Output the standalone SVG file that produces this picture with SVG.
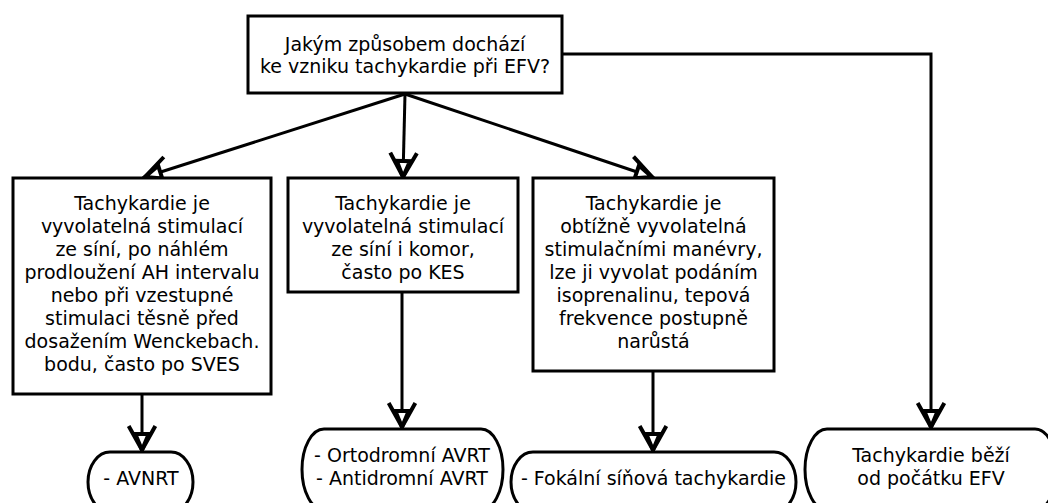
<svg xmlns="http://www.w3.org/2000/svg" width="1048" height="503" viewBox="0 0 1048 503">
<style>
text{font-family:"DejaVu Sans","Liberation Sans",sans-serif;font-size:19px;fill:#000;text-anchor:middle}
.box{fill:#fff;stroke:#000;stroke-width:3}
.con{fill:none;stroke:#000;stroke-width:3}
</style>
<defs>
<marker id="arr" markerUnits="userSpaceOnUse" markerWidth="40" markerHeight="40" viewBox="-25 -15 30 30" refX="0" refY="0" orient="auto" overflow="visible">
<path d="M-18,-10 L0,0 L-18,10" fill="none" stroke="#000" stroke-width="3"/>
<path d="M-12,-5 L0,0 L-12,5 Z" fill="#fff" stroke="#000" stroke-width="3" stroke-linejoin="miter"/>
</marker>
</defs>
<g id="connectors">
<path class="con" d="M405,94 L145,177" marker-end="url(#arr)"/>
<path class="con" d="M405,94 L403,177" marker-end="url(#arr)"/>
<path class="con" d="M405,94 L652,177" marker-end="url(#arr)"/>
<path class="con" d="M562,54 H931 V427" marker-end="url(#arr)"/>
<path class="con" d="M142,394 V450" marker-end="url(#arr)"/>
<path class="con" d="M402,292 V427" marker-end="url(#arr)"/>
<path class="con" d="M653,371 V450" marker-end="url(#arr)"/>
</g>
<g id="question">
<rect class="box" x="248" y="16" width="314" height="77"/>
<text x="405" y="51">Jakým způsobem dochází</text>
<text x="405" y="73">ke vzniku tachykardie při EFV?</text>
</g>
<g id="box1">
<rect class="box" x="13" y="178" width="258" height="216"/>
<text x="142" y="210">Tachykardie je</text>
<text x="142" y="233">vyvolatelná stimulací</text>
<text x="142" y="256">ze síní, po náhlém</text>
<text x="142" y="279">prodloužení AH intervalu</text>
<text x="142" y="302">nebo při vzestupné</text>
<text x="142" y="325">stimulaci těsně před</text>
<text x="142" y="348">dosažením Wenckebach.</text>
<text x="142" y="371">bodu, často po SVES</text>
</g>
<g id="box2">
<rect class="box" x="288" y="178" width="230" height="114"/>
<text x="403" y="210">Tachykardie je</text>
<text x="403" y="233">vyvolatelná stimulací</text>
<text x="403" y="256">ze síní i komor,</text>
<text x="403" y="279">často po KES</text>
</g>
<g id="box3">
<rect class="box" x="533" y="178" width="241" height="193"/>
<text x="653.5" y="210">Tachykardie je</text>
<text x="653.5" y="233">obtížně vyvolatelná</text>
<text x="653.5" y="256">stimulačními manévry,</text>
<text x="653.5" y="279">lze ji vyvolat podáním</text>
<text x="653.5" y="302">isoprenalinu, tepová</text>
<text x="653.5" y="325">frekvence postupně</text>
<text x="653.5" y="348">narůstá</text>
</g>
<g id="end1">
<path class="box" d="M110,452 H171 A22,30 0 0 1 171,512 H110 A22,30 0 0 1 110,452 Z"/>
<text x="141" y="485">- AVNRT</text>
</g>
<g id="end2">
<path class="box" d="M324,429 H481 A22,40.5 0 0 1 481,510 H324 A22,40.5 0 0 1 324,429 Z"/>
<text x="402" y="462">- Ortodromní AVRT</text>
<text x="402" y="485">- Antidromní AVRT</text>
</g>
<g id="end3">
<path class="box" d="M533,452 H774 A22,30 0 0 1 774,512 H533 A22,30 0 0 1 533,452 Z"/>
<text x="653.5" y="485">- Fokální síňová tachykardie</text>
</g>
<g id="end4">
<path class="box" d="M827,429 H1035 A22,40.5 0 0 1 1035,510 H827 A22,40.5 0 0 1 827,429 Z"/>
<text x="931" y="462">Tachykardie běží</text>
<text x="931" y="485">od počátku EFV</text>
</g>
</svg>
